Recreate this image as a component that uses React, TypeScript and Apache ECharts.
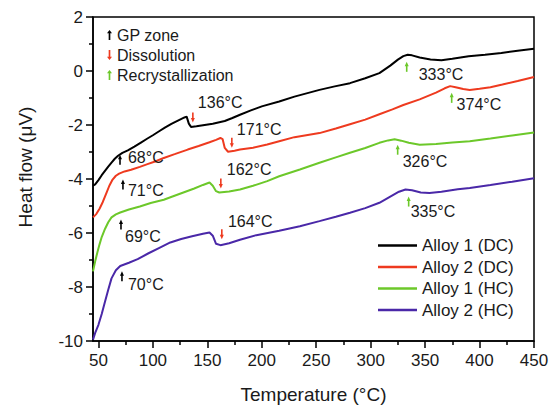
import React, { useEffect, useRef } from "react";
import * as echarts from "echarts";

const FONT = '"Liberation Sans", Arial, sans-serif';

const xMajorTicks = [50, 100, 150, 200, 250, 300, 350, 400, 450];
const xMinorTicks = [75, 125, 175, 225, 275, 325, 375, 425];

const seriesNames = ["Alloy 1 (DC)", "Alloy 2 (DC)", "Alloy 1 (HC)", "Alloy 2 (HC)"];
const seriesColors = ["#000000", "#ee3a1f", "#6cc82a", "#4a28a8"];

const alloy1DC = [
  [45, -4.25], [47, -4.2], [50, -4.04], [53, -3.86], [56, -3.7], [59, -3.54], [62, -3.39], [65, -3.25],
  [68, -3.14], [72, -3.03], [77, -2.94], [83, -2.8], [89, -2.65], [95, -2.5], [100, -2.38], [105, -2.25],
  [111, -2.1], [117, -1.96], [123, -1.84], [129, -1.72], [131, -1.69], [133, -1.95], [135, -2.07],
  [140, -2.05], [146, -2.01], [155, -1.95], [166, -1.85], [173, -1.74], [180, -1.62], [190, -1.46],
  [200, -1.31], [216, -1.13], [230, -0.95], [253, -0.7], [267, -0.57], [281, -0.45], [295, -0.27],
  [308, -0.08], [318, 0.2], [325, 0.42], [330, 0.55], [334, 0.6], [338, 0.58], [345, 0.5], [355, 0.43],
  [365, 0.4], [375, 0.45], [390, 0.55], [405, 0.6], [420, 0.67], [435, 0.75], [450, 0.82],
];

const alloy2DC = [
  [45, -5.42], [48, -5.3], [51, -5.1], [54, -4.85], [57, -4.55], [60, -4.25], [63, -4.02], [66, -3.88],
  [69, -3.8], [74, -3.72], [80, -3.66], [88, -3.55], [95, -3.45], [102, -3.35], [110, -3.22], [120, -3.08],
  [132, -2.91], [142, -2.78], [152, -2.64], [158, -2.55], [162, -2.48], [164, -2.52], [166, -2.85],
  [169, -2.99], [175, -2.95], [180, -2.91], [192, -2.84], [205, -2.72], [216, -2.6], [230, -2.45],
  [253, -2.3], [268, -2.13], [281, -1.97], [295, -1.8], [308, -1.6], [320, -1.42], [330, -1.26],
  [345, -1.05], [360, -0.8], [368, -0.64], [373, -0.56], [378, -0.6], [385, -0.67], [391, -0.7],
  [400, -0.66], [410, -0.6], [421, -0.5], [435, -0.37], [450, -0.22],
];

const alloy1HC = [
  [45, -7.42], [47, -7.05], [49, -6.72], [51, -6.42], [53, -6.15], [56, -5.85], [59, -5.6], [62, -5.42],
  [66, -5.31], [70, -5.24], [78, -5.13], [88, -5.02], [98, -4.89], [110, -4.77], [118, -4.65], [128, -4.5],
  [138, -4.35], [146, -4.22], [152, -4.13], [155, -4.25], [158, -4.45], [161, -4.5], [170, -4.46],
  [180, -4.39], [192, -4.25], [205, -4.08], [216, -3.9], [235, -3.65], [253, -3.4], [268, -3.2],
  [281, -3.03], [295, -2.85], [308, -2.66], [316, -2.57], [322, -2.53], [328, -2.58], [335, -2.66],
  [345, -2.73], [360, -2.7], [375, -2.65], [391, -2.6], [410, -2.5], [430, -2.39], [450, -2.28],
];

const alloy2HC = [
  [45, -9.95], [47, -9.7], [50, -9.4], [53, -9.0], [56, -8.55], [59, -8.1], [62, -7.68], [66, -7.38],
  [70, -7.22], [78, -7.1], [86, -6.97], [96, -6.75], [106, -6.55], [116, -6.35], [126, -6.22],
  [136, -6.12], [146, -6.03], [152, -5.98], [155, -6.1], [158, -6.4], [162, -6.45], [170, -6.38],
  [180, -6.25], [195, -6.08], [216, -5.92], [235, -5.75], [253, -5.56], [268, -5.4], [281, -5.25],
  [295, -5.08], [308, -4.88], [318, -4.65], [326, -4.47], [332, -4.39], [338, -4.42], [346, -4.5],
  [354, -4.52], [365, -4.47], [380, -4.38], [391, -4.33], [410, -4.22], [430, -4.1], [450, -3.97],
];

// annotation rows: [arrow temperature, arrow tip value, label temperature, label value]
const gpZoneMarks = [[69.8, -3.1, 77.1, -3.21], [72.5, -4.02, 77.1, -4.42], [70.7, -5.5, 74.4, -6.12], [71.6, -7.42, 77.1, -7.9]];
const gpZoneLabels = ["68°C", "71°C", "69°C", "70°C"];
const dissolutionMarks = [[136.7, -1.91, 141.3, -1.18], [172.5, -2.84, 177.1, -2.17], [162.4, -4.35, 167.9, -3.65], [163.3, -6.23, 168.9, -5.57]];
const dissolutionLabels = ["136°C", "171°C", "162°C", "164°C"];
const recrystMarks = [[333.1, 0.34, 344.1, -0.14], [374.4, -0.81, 378.9, -1.25], [324.8, -2.73, 329.4, -3.35], [334.9, -4.65, 336.7, -5.2]];
const recrystLabels = ["333°C", "374°C", "326°C", "335°C"];

const markNames = ["GP zone", "Dissolution", "Recrystallization"];
const markColors = ["#000000", "#ee3a1f", "#6cc82a"];

const upArrow = "path://M3,0 L6,4 L4,4 L4,12 L2,12 L2,4 L0,4 Z";
const downArrow = "path://M3,12 L6,8 L4,8 L4,0 L2,0 L2,8 L0,8 Z";

function arrowSeries(name: string, color: string, data: number[][], labels: string[], dir: number) {
  return {
    type: "custom",
    name,
    xAxisIndex: 0,
    yAxisIndex: 0,
    z: 5,
    silent: true,
    itemStyle: { color },
    encode: { x: [0, 2], y: [1, 3] },
    data,
    renderItem: (params: any, api: any) => {
      const tip = api.coord([api.value(0), api.value(1)]);
      const lab = api.coord([api.value(2), api.value(3)]);
      const len = 10;
      return {
        type: "group",
        children: [
          {
            type: "line",
            shape: { x1: tip[0], y1: tip[1] + dir * 3, x2: tip[0], y2: tip[1] + dir * len },
            style: { stroke: color, lineWidth: 1.6 },
          },
          {
            type: "polygon",
            shape: { points: [[tip[0], tip[1]], [tip[0] - 2, tip[1] + dir * 4.5], [tip[0] + 2, tip[1] + dir * 4.5]] },
            style: { fill: color },
          },
          {
            type: "text",
            x: lab[0],
            y: lab[1],
            style: {
              text: labels[params.dataIndex],
              fill: "#1a1a1a",
              fontSize: 16,
              fontFamily: FONT,
              align: "left",
              verticalAlign: "middle",
            },
          },
        ],
      };
    },
  };
}

export default function App() {
  const ref = useRef<HTMLDivElement>(null);
  useEffect(() => {
    document.body.style.margin = "0";
    if (!ref.current) return;
    const chart = echarts.init(ref.current, undefined, { renderer: "svg" });
    const curves = [alloy1DC, alloy2DC, alloy1HC, alloy2HC];
    chart.setOption({
      animation: false,
      backgroundColor: "#ffffff",
      textStyle: { fontFamily: FONT, color: "#1a1a1a" },
      grid: {
        left: 93,
        top: 17,
        right: 22,
        bottom: 67,
        containLabel: false,
        show: true,
        borderColor: "#000",
        borderWidth: 1.5,
      },
      xAxis: [
        {
          type: "value",
          min: 45,
          max: 450,
          position: "bottom",
          name: "Temperature (°C)",
          nameLocation: "middle",
          nameGap: 44,
          nameTextStyle: { fontSize: 19, color: "#1a1a1a", fontFamily: FONT },
          axisLine: { show: true, onZero: false, lineStyle: { color: "#000", width: 1.5 } },
          axisTick: { show: true, length: 7, lineStyle: { color: "#000", width: 1.5 }, customValues: xMajorTicks },
          axisLabel: { fontSize: 17, color: "#1a1a1a", margin: 11, fontFamily: FONT, customValues: xMajorTicks },
          splitLine: { show: false },
        },
        {
          type: "value",
          min: 45,
          max: 450,
          position: "bottom",
          axisLine: { show: false, onZero: false },
          axisTick: { show: true, length: 4, lineStyle: { color: "#000", width: 1.5 }, customValues: xMinorTicks },
          axisLabel: { show: false },
          splitLine: { show: false },
        },
      ],
      yAxis: {
        type: "value",
        min: -10,
        max: 2,
        interval: 2,
        name: "Heat flow (μV)",
        nameLocation: "middle",
        nameGap: 58,
        nameTextStyle: { fontSize: 19, color: "#1a1a1a", fontFamily: FONT, padding: [0, 0, 0, 24] },
        axisLine: { show: true, onZero: false, lineStyle: { color: "#000", width: 1.5 } },
        axisTick: { show: true, length: 7, lineStyle: { color: "#000", width: 1.5 } },
        minorTick: { show: true, splitNumber: 2, length: 4, lineStyle: { color: "#000", width: 1.5 } },
        axisLabel: { fontSize: 17, color: "#1a1a1a", margin: 10, fontFamily: FONT },
        splitLine: { show: false },
      },
      legend: [
        {
          orient: "vertical",
          left: 102,
          top: 22,
          itemWidth: 5,
          itemHeight: 11,
          itemGap: 4,
          selectedMode: false,
          textStyle: { fontSize: 16, color: "#1a1a1a", fontFamily: FONT },
          data: [
            { name: markNames[0], icon: upArrow },
            { name: markNames[1], icon: downArrow },
            { name: markNames[2], icon: upArrow },
          ],
        },
        {
          orient: "vertical",
          left: 373,
          top: 232,
          itemWidth: 39,
          itemHeight: 2.5,
          itemGap: 4.5,
          icon: "rect",
          selectedMode: false,
          textStyle: { fontSize: 17, color: "#1a1a1a", fontFamily: FONT },
          data: seriesNames,
        },
      ],
      series: [
        ...curves.map((d, i) => ({
          type: "line",
          name: seriesNames[i],
          data: d,
          xAxisIndex: 0,
          yAxisIndex: 0,
          showSymbol: false,
          symbol: "none",
          smooth: false,
          z: 2,
          color: seriesColors[i],
          lineStyle: { color: seriesColors[i], width: 2 },
        })),
        arrowSeries(markNames[0], markColors[0], gpZoneMarks, gpZoneLabels, 1),
        arrowSeries(markNames[1], markColors[1], dissolutionMarks, dissolutionLabels, -1),
        arrowSeries(markNames[2], markColors[2], recrystMarks, recrystLabels, 1),
      ],
    });
    return () => chart.dispose();
  }, []);
  return <div ref={ref} style={{ width: 556, height: 409 }} />;
}
